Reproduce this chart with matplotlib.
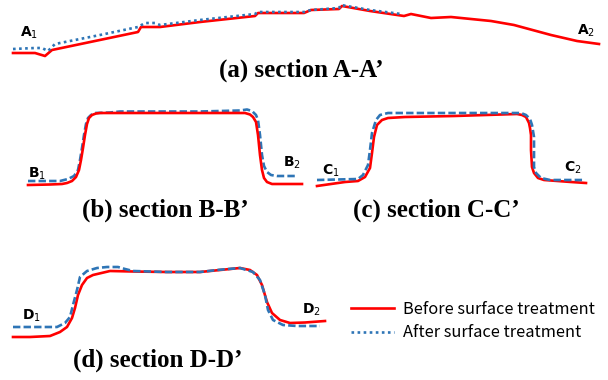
import matplotlib
matplotlib.use("Agg")
import matplotlib.pyplot as plt

# Surface profiles along four sections, before / after surface treatment.
# x = distance along the section, y = height (arbitrary units)

a_before_x = [13, 35, 45, 52, 95, 138, 141, 147, 160, 200, 255, 258, 304, 311, 339, 342,
              370, 404, 411, 431, 451, 491, 514, 551, 577, 599]
a_before_y = [7, 7, 4, 10, 19, 28, 33, 33, 33, 38, 44, 47, 47, 50, 51, 54,
              49, 44, 46, 42, 43, 39, 35, 25, 19, 16]
a_after_x = [13, 35, 42, 48, 55, 100, 138, 145, 155, 160, 200, 255, 258, 304, 311, 339,
             341, 370, 401]
a_after_y = [11, 12, 12, 9, 16, 25, 33, 37, 37, 35, 40, 46, 48, 48, 50, 52,
             55, 50, 46]

b_before_x = [28, 50, 62, 67, 72, 76, 79, 81, 83, 85, 87, 89, 92, 96, 100, 245, 250,
              253, 256, 258, 260, 262, 264, 267, 272, 302]
b_before_y = [10, 10.5, 11, 12, 14, 18, 25, 35, 47, 60, 71, 77, 80, 81.5, 82, 82, 80.5,
              78, 73, 60, 40, 25, 17, 13, 11, 11]
b_after_x = [28, 60, 68, 74, 78, 80, 82, 84, 86, 88, 91, 95, 110, 120, 200, 240, 247,
             252, 256, 258, 260, 262, 264, 267, 271, 277, 297]
b_after_y = [14, 14, 16, 19, 25, 35, 47, 60, 71, 77, 80, 82, 82.5, 83.5, 83.5, 84.5, 85.5,
             84, 80, 75, 60, 40, 29, 23, 20, 19, 19]

c_before_x = [13, 41, 54, 61, 66, 68, 70, 73, 78, 84, 101, 150, 213, 218, 222, 225,
              226, 227, 227, 228, 230, 234, 240, 267, 282]
c_before_y = [9, 13, 14, 18, 27, 42, 58, 70, 75, 77, 78, 79, 81, 80, 78, 72,
              67, 60, 45, 28, 22, 17, 15, 13, 12]
c_after_x = [13, 54, 59, 64, 66, 68, 72, 76, 84, 101, 146, 217, 222, 226, 228, 229,
             230, 230, 232, 237, 246, 280]
c_after_y = [15, 16, 20, 30, 45, 62, 75, 80, 82, 82, 82, 82, 80, 76, 70, 64,
             58, 28, 22, 17, 15, 15]

d_before_x = [13, 30, 50, 60, 67, 72, 75, 78, 82, 87, 93, 110, 133, 167, 200, 220,
              240, 250, 257, 262, 267, 272, 280, 290, 305, 325]
d_before_y = [8, 8, 9, 13, 18, 27, 37, 50, 60, 67, 70, 74, 73.5, 73, 73, 75,
              77, 75, 70, 60, 43, 32, 25, 22, 22.5, 24]
d_after_x = [13, 57, 65, 70, 73, 77, 80, 87, 97, 107, 118, 125, 133, 167, 200, 217,
             240, 253, 260, 265, 268, 273, 283, 297, 320]
d_after_y = [18, 18, 22, 28, 40, 55, 68, 74, 77, 78, 78, 76, 74, 73, 73, 75,
             77, 73, 65, 50, 35, 25, 20, 19, 19]

titles = ["(a) section A-A\u2019", "(b) section B-B\u2019",
          "(c) section C-C\u2019", "(d) section D-D\u2019"]
legend_labels = ["Before surface treatment", "After surface treatment"]

RED = "#ff0000"
BLUE = "#2e75b6"
LW = 1.9


def make_ax(fig, box, w, h):
    # box in pixels: left, top, width, height
    left, top, bw, bh = box
    ax = fig.add_axes([left / 608, 1 - (top + bh) / 380, bw / 608, bh / 380])
    ax.set_xlim(0, w)
    ax.set_ylim(0, h)
    ax.axis("off")
    return ax


def end_label(ax, x, y, letter, idx):
    ax.text(x, y, r"$\mathbf{%s}_{%d}$" % (letter, idx), fontsize=10,
            ha="left", va="baseline")


def main():
    plt.rcParams["mathtext.fontset"] = "dejavusans"
    fig = plt.figure(figsize=(6.08, 3.8), dpi=100)

    # (a)
    ax = make_ax(fig, (0, 0, 608, 60), 608, 60)
    red_a, = ax.plot(a_before_x, a_before_y, color=RED, lw=LW, solid_joinstyle="round")
    blue_a, = ax.plot(a_after_x, a_after_y, color=BLUE, lw=LW, ls=(0, (1, 1.3)))
    end_label(ax, 20, 23, "A", 1)
    end_label(ax, 577, 25, "A", 2)

    # (b)
    ax = make_ax(fig, (0, 95, 304, 100), 304, 100)
    ax.plot(b_after_x, b_after_y, color=BLUE, lw=LW, ls=(0, (2.8, 1.2)))
    ax.plot(b_before_x, b_before_y, color=RED, lw=LW, solid_joinstyle="round")
    end_label(ax, 28, 17, "B", 1)
    end_label(ax, 283, 28, "B", 2)

    # (c)
    ax = make_ax(fig, (304, 95, 304, 100), 304, 100)
    ax.plot(c_before_x, c_before_y, color=RED, lw=LW, solid_joinstyle="round")
    ax.plot(c_after_x, c_after_y, color=BLUE, lw=LW, ls=(0, (2.8, 1.2)))
    end_label(ax, 18, 20, "C", 1)
    end_label(ax, 260, 23, "C", 2)

    # (d)
    ax = make_ax(fig, (0, 250, 340, 95), 340, 95)
    ax.plot(d_before_x, d_before_y, color=RED, lw=LW, solid_joinstyle="round")
    ax.plot(d_after_x, d_after_y, color=BLUE, lw=LW, ls=(0, (2.8, 1.2)))
    end_label(ax, 22, 25, "D", 1)
    end_label(ax, 302, 31, "D", 2)

    # panel captions
    cap_pos = [(301, 70), (165, 210), (436, 210), (158, 360)]
    for t, (cx, cy) in zip(titles, cap_pos):
        fig.text(cx / 608, 1 - cy / 380, t, ha="center", va="center",
                 family="Liberation Serif", weight="bold", fontsize=18)

    fig.legend([red_a, blue_a], legend_labels, loc="center left",
               bbox_to_anchor=(351 / 608, 1 - 321 / 380), frameon=False,
               prop={"family": ["Noto Sans CJK KR", "DejaVu Sans"], "size": 11.8},
               handlelength=2.6, handletextpad=0.55, labelspacing=0.4,
               borderpad=0, borderaxespad=0)

    fig.savefig("out.png", dpi=100)


if __name__ == "__main__":
    main()
